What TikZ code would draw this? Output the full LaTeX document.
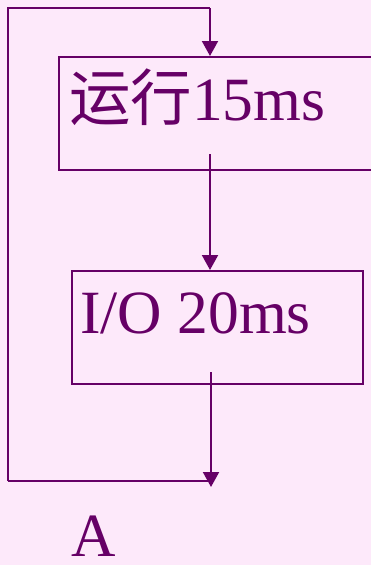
\documentclass[tikz,border=0pt]{standalone}
\usepackage{fontspec}
\setmainfont{Liberation Serif}
\newfontfamily\cjk{Noto Sans CJK SC}
\usetikzlibrary{arrows.meta}
\definecolor{bgpink}{RGB}{253,233,250}
\definecolor{plum}{RGB}{102,0,102}
\tikzset{
  boxstyle/.style={draw=plum, line width=2pt, rectangle, inner sep=0pt},
  conn/.style={draw=plum, line width=2pt},
  arr/.style={conn, -{Triangle[width=16pt,length=15pt]}},
  lbl/.style={text=plum, font=\fontsize{61.5}{61.5}\selectfont, inner sep=0pt, anchor=base west}
}
\begin{document}
\begin{tikzpicture}[x=1pt,y=1pt]
\fill[bgpink] (0,0) rectangle (371,-565);
\useasboundingbox (0,0) rectangle (371,-565);
% boxes
\node[boxstyle, minimum width=330pt, minimum height=113pt, anchor=north west] (box1) at (57.5,-56) {};
\node[boxstyle, minimum width=291.5pt, minimum height=113pt, anchor=north west] (box2) at (70.5,-270) {};
% texts
\node[lbl] (t1) at (69,-120) {{\cjk 运行}15ms};
\node[lbl] (t2) at (80,-333) {I/O 20ms};
\node[lbl, text depth=0pt] (tA) at (71,-556) {A};
% coordinates
\coordinate (tl) at (8,-8);
\coordinate (bl) at (8,-481);
\coordinate (in1) at (210,-8);
\coordinate (out1) at (210,-154);
\coordinate (out2) at (211,-372);
\coordinate (endA) at (211,-487);
% connectors
\draw[conn] (bl) -- (tl) -- (in1);
\draw[arr] (in1) -- (in1 |- box1.north);
\draw[arr] (out1) -- (out1 |- box2.north);
\draw[conn] (bl) -- (out2 |- bl);
\draw[arr] (out2) -- (endA);
\end{tikzpicture}
\end{document}
